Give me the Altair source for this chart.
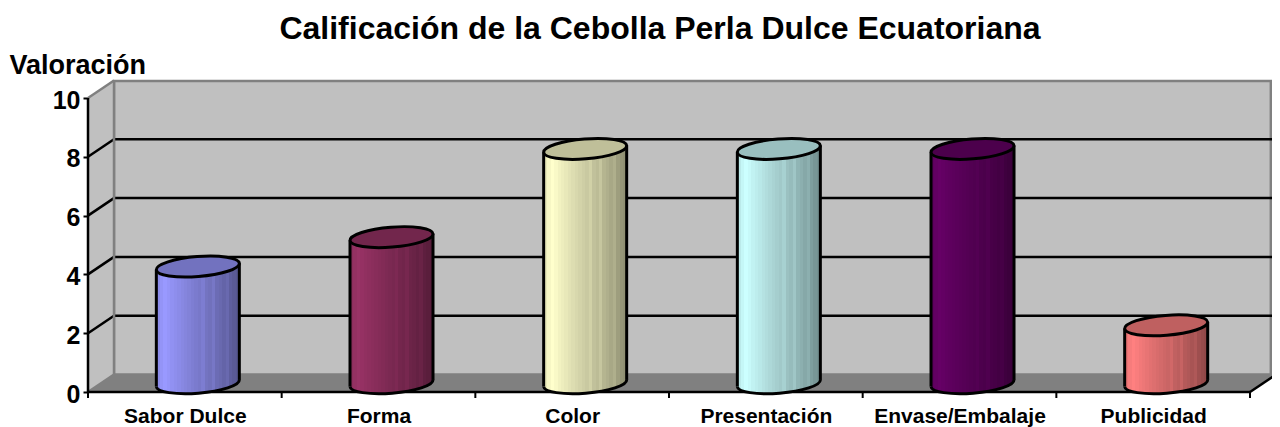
import altair as alt
import pandas as pd

categories = ["Sabor Dulce", "Forma", "Color", "Presentación", "Envase/Embalaje", "Publicidad"]
values = [4, 5, 8, 8, 8, 2]
base_colors = ["#9999FF", "#993366", "#FFFFCC", "#CCFFFF", "#660066", "#FF8080"]
y_ticks = [0, 2, 4, 6, 8, 10]
grid_levels = [2, 4, 6, 8]

W, H = 1184, 311
UNIT_X = 193.67
UNIT_Y = 29.4
DX = 26 / UNIT_X
DY = 17.5 / UNIT_Y
HW = 41.5 / UNIT_X
TILT = 3.3 / UNIT_Y
XDOM = [0, W / UNIT_X]
YDOM = [0, H / UNIT_Y]
FONT = "Liberation Sans"
OUTLINE = 3

x_scale = alt.Scale(domain=XDOM, nice=False, zero=False)
y_scale = alt.Scale(domain=YDOM, nice=False, zero=False)


def shade(hex_color, k):
    r, g, b = (int(hex_color[i:i + 2], 16) for i in (1, 3, 5))
    return "#%02x%02x%02x" % (min(255, int(r * k)), min(255, int(g * k)), min(255, int(b * k)))


def gradient(hex_color):
    profile = [.92, .97, 1, .98, .95, .93, .91, .89, .87, .85, .83, .81, .79, .82, .76, .74, .78, .71, .69, .66, .69, .62, .59, .57]
    stops = []
    n = len(profile)
    for i, k in enumerate(profile):
        c = shade(hex_color, k)
        stops.append({"offset": i / n, "color": c})
        stops.append({"offset": (i + 1) / n, "color": c})
    return {"gradient": "linear", "x1": 0, "x2": 1, "y1": 0, "y2": 0, "stops": stops}


x_axis = alt.Axis(
    values=[i + .5 for i in range(6)],
    labelExpr="[" + ",".join("'%s'" % c for c in categories) + "][floor(datum.value)]",
    ticks=False, domain=False, grid=False, title=None, labelFont=FONT, labelFontSize=21, labelFontWeight="bold",
    labelColor="black", labelPadding=13, labelOverlap=False, labelFlush=False)
y_axis = alt.Axis(
    values=y_ticks, title="Valoración", titleAngle=0, titleX=-79, titleY=-8, titleAlign="left",
    titleBaseline="alphabetic", titleFont=FONT, titleFontSize=27, titleFontWeight="bold", titleColor="black",
    domain=False, grid=False, tickColor="black", tickSize=5, tickWidth=2, labelFont=FONT, labelFontSize=25,
    labelFontWeight="bold", labelColor="black", labelPadding=3, labelOffset=2, labelFlush=False, labelOverlap=False)

X = lambda f: alt.X(f, type="quantitative", scale=x_scale, axis=x_axis)
Y = lambda f: alt.Y(f, type="quantitative", scale=y_scale, axis=y_axis)


def seg(rows, color, width):
    return alt.Chart(pd.DataFrame(rows, columns=["a", "b", "c", "d"])).mark_rule(
        color=color, strokeWidth=width, clip=False
    ).encode(x=X("a:Q"), x2="b:Q", y=Y("c:Q"), y2="d:Q")


wall = alt.Chart(pd.DataFrame({"a": [DX], "b": [XDOM[1] - 0.006], "c": [DY], "d": [YDOM[1]]})).mark_rect(
    fill="#C0C0C0", stroke="#808080", strokeWidth=2.5, clip=False
).encode(x=X("a:Q"), x2="b:Q", y=Y("c:Q"), y2="d:Q")

side = alt.Chart(pd.DataFrame({"x": [0, DX], "lo": [0, DY], "hi": [10, 10 + DY]})).mark_area(fill="#C0C0C0").encode(
    x=X("x:Q"), y=Y("lo:Q"), y2="hi:Q")
floor = alt.Chart(pd.DataFrame({"x": [0, DX, 6, 6 + DX], "lo": [0, 0, 0, DY], "hi": [0, DY, DY, DY]})).mark_area(fill="#808080").encode(
    x=X("x:Q"), y=Y("lo:Q"), y2="hi:Q")

layers = [wall, side, floor]
layers.append(seg([[DX, XDOM[1], DY + v, DY + v] for v in grid_levels], "black", 2.5))
layers.append(seg([[0, DX, v, v + DY] for v in grid_levels], "black", 2.5))
layers.append(seg([[0, DX, 10, 10 + DY], [0, DX, 0, DY]], "#808080", 2.5))
layers.append(seg([[DX, DX, DY, 10 + DY]], "#808080", 2.5))
layers.append(seg([[0, 0, 0, 10]], "black", 2.5))
layers.append(seg([[0, 6, 0, 0], [6, 6 + DX, 0, DY]], "black", 2.5))
layers.append(alt.Chart(pd.DataFrame({"x": list(range(7))})).mark_rule(color="black", strokeWidth=2).encode(
    x=X("x:Q"), y=alt.value(H), y2=alt.value(H + 6)))

ELL = "M-1,0.08 A1.003,0.24 -4.6 1 1 1,-0.08 A1.003,0.24 -4.6 1 1 -1,0.08 Z"
LOW_FILL = "M-1,-0.12 L-1,0.08 A1.003,0.24 -4.6 0 0 1,-0.08 L1,-0.12 Z"
LOW_LINE = "M-1,0.08 A1.003,0.24 -4.6 0 0 1,-0.08"
TOP_FILL = "M-1,0.08 L1,-0.08 L1,0.3 L-1,0.3 Z"
SIZE = 83 ** 2
TOP_DROP = 0.28 * 41.5 / UNIT_Y

for i, (name, val, col) in enumerate(zip(categories, values, base_colors)):
    cx = i + .5 + DX / 2
    base = DY / 2
    top = val + base - 0.03
    grad = gradient(col)
    body = pd.DataFrame({"name": [name], "l": [cx - HW], "r": [cx + HW], "lo": [base], "hi": [top], "cx": [cx],
                         "rect_hi": [top - TOP_DROP], "l_lo": [base - TILT], "l_hi": [top - TILT],
                         "r_lo": [base + TILT], "r_hi": [top + TILT]})
    src = alt.Chart(body)
    layers.append(src.mark_point(shape=LOW_FILL, size=SIZE, filled=True, fill=grad, stroke=None, opacity=1).encode(
        x=X("cx:Q"), y=Y("lo:Q")))
    layers.append(src.mark_rect(fill=grad).encode(x=X("l:Q"), x2="r:Q", y=Y("lo:Q"), y2="rect_hi:Q"))
    layers.append(src.mark_point(shape=TOP_FILL, size=SIZE, filled=True, fill=grad, stroke=None, opacity=1).encode(
        x=X("cx:Q"), y=Y("hi:Q")))
    layers.append(src.mark_point(shape=LOW_LINE, size=SIZE, filled=False, fill="transparent", stroke="black", strokeWidth=OUTLINE, opacity=1).encode(
        x=X("cx:Q"), y=Y("lo:Q")))
    layers.append(src.mark_rule(color="black", strokeWidth=OUTLINE).encode(x=X("l:Q"), y=Y("l_lo:Q"), y2="l_hi:Q"))
    layers.append(src.mark_rule(color="black", strokeWidth=OUTLINE).encode(x=X("r:Q"), y=Y("r_lo:Q"), y2="r_hi:Q"))
    layers.append(src.mark_point(shape=ELL, size=SIZE, filled=True, fill=shade(col, .75), stroke="black", strokeWidth=OUTLINE, opacity=1).encode(
        x=X("cx:Q"), y=Y("hi:Q")))

chart = alt.layer(*layers).properties(
    width=W, height=H,
    title=alt.TitleParams("Calificación de la Cebolla Perla Dulce Ecuatoriana", font=FONT, fontSize=32,
                          fontWeight="bold", color="black", anchor="middle", dx=-20, offset=5),
    padding={"left": 80, "top": 73, "right": 0, "bottom": 36},
    autosize=alt.AutoSizeParams(type="none"),
    background="white",
).configure_view(stroke=None)

chart.save("out.html", embed_options={"renderer": "svg", "actions": False})
